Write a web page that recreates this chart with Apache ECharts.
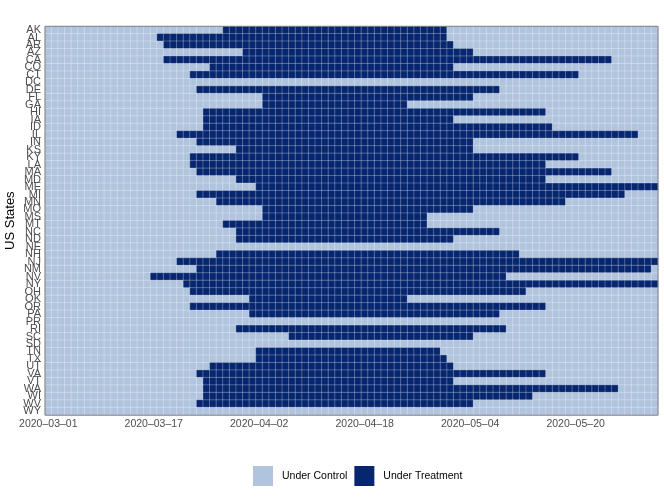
<!DOCTYPE html>
<html>
<head>
<meta charset="utf-8">
<script src="https://cdn.jsdelivr.net/npm/echarts@6/dist/echarts.min.js"></script>
<style>
  html, body { margin: 0; padding: 0; background: #fff; }
  #chart { width: 664px; height: 499px; }
</style>
</head>
<body>
<div id="chart"></div>
<script>
const states = ['AK','AL','AR','AZ','CA','CO','CT','DC','DE','FL','GA','HI','IA','ID','IL','IN','KS','KY','LA','MA',
  'MD','ME','MI','MN','MO','MS','MT','NC','ND','NE','NH','NJ','NM','NV','NY','OH','OK','OR','PA','PR',
  'RI','SC','SD','TN','TX','UT','VA','VT','WA','WI','WV','WY'];

// first and last day under treatment (null = never treated)
const treatStart = ['2020-03-28','2020-03-18','2020-03-19','2020-03-31','2020-03-19','2020-03-26','2020-03-23',null,'2020-03-24','2020-04-03',
  '2020-04-03','2020-03-25','2020-03-25','2020-03-25','2020-03-21','2020-03-24','2020-03-30','2020-03-23','2020-03-23','2020-03-24',
  '2020-03-30','2020-04-02','2020-03-24','2020-03-27','2020-04-03','2020-04-03','2020-03-28','2020-03-30','2020-03-30',null,
  '2020-03-27','2020-03-21','2020-03-24','2020-03-17','2020-03-22','2020-03-23','2020-04-01','2020-03-23','2020-04-01',null,
  '2020-03-30','2020-04-07',null,'2020-04-02','2020-04-02','2020-03-26','2020-03-24','2020-03-25','2020-03-25','2020-03-25',
  '2020-03-24',null];
const treatEnd = ['2020-04-30','2020-04-30','2020-05-01','2020-05-04','2020-05-25','2020-05-01','2020-05-20',null,'2020-05-08','2020-05-04',
  '2020-04-24','2020-05-15','2020-05-01','2020-05-16','2020-05-29','2020-05-04','2020-05-04','2020-05-20','2020-05-15','2020-05-25',
  '2020-05-15','2020-06-01','2020-05-27','2020-05-18','2020-05-04','2020-04-27','2020-04-27','2020-05-08','2020-05-01',null,
  '2020-05-11','2020-06-01','2020-05-31','2020-05-09','2020-06-01','2020-05-12','2020-04-24','2020-05-15','2020-05-08',null,
  '2020-05-09','2020-05-04',null,'2020-04-29','2020-04-30','2020-05-01','2020-05-15','2020-05-01','2020-05-26','2020-05-13',
  '2020-05-04',null];

const firstDay = '2020-03-01';
const lastDay = '2020-06-01';
const statusLabels = ['Under Control', 'Under Treatment'];

// daily categories
const dates = [];
for (let d = new Date(firstDay + 'T00:00:00Z'); d <= new Date(lastDay + 'T00:00:00Z'); d.setUTCDate(d.getUTCDate() + 1)) {
  dates.push(d.toISOString().slice(0, 10));
}

const cells = [];
states.forEach((s, i) => {
  dates.forEach((dt, j) => {
    const on = treatStart[i] && dt >= treatStart[i] && dt <= treatEnd[i] ? 1 : 0;
    cells.push([j, i, on]);
  });
});

const chart = echarts.init(document.getElementById('chart'));
const font = 'Liberation Sans, Arial, Helvetica, sans-serif';

chart.setOption({
  animation: false,
  backgroundColor: '#fff',
  textStyle: { fontFamily: font },
  grid: { left: 45, right: 6, top: 26.3, bottom: 84, outerBoundsMode: 'none', containLabel: false },
  xAxis: {
    type: 'category',
    data: dates,
    axisLine: { show: false },
    axisTick: { alignWithLabel: true, interval: 15, length: 3, lineStyle: { color: '#333' } },
    axisLabel: {
      interval: 15, color: '#4d4d4d', fontSize: 10.5, margin: 4,
      formatter: v => v.replace(/-/g, '\u2013')
    },
    splitLine: { show: false }
  },
  yAxis: {
    type: 'category',
    data: states,
    inverse: true,
    name: 'US States',
    nameLocation: 'middle',
    nameMoveOverlap: false,
    nameGap: 28,
    nameTextStyle: { color: '#000', fontSize: 13, fontFamily: font },
    axisLine: { show: false },
    axisTick: { alignWithLabel: true, length: 3, lineStyle: { color: '#333' } },
    axisLabel: { interval: 0, color: '#4d4d4d', fontSize: 11, margin: 4 },
    splitLine: { show: false }
  },
  visualMap: {
    type: 'piecewise',
    dimension: 2,
    orient: 'horizontal',
    left: 253,
    top: 466,
    padding: 0,
    itemWidth: 20,
    itemHeight: 20,
    itemGap: 7,
    textGap: 9,
    itemSymbol: 'rect',
    selectedMode: false,
    hoverLink: false,
    textStyle: { color: '#000', fontSize: 10.5, fontFamily: font },
    pieces: [
      { value: 0, label: statusLabels[0], color: '#B0C4DE' },
      { value: 1, label: statusLabels[1], color: '#06266F' }
    ]
  },
  series: [{
    type: 'heatmap',
    data: cells,
    progressive: 0,
    itemStyle: { borderColor: 'rgba(255,255,255,0.45)', borderWidth: 0.6 },
    emphasis: { disabled: true }
  }],
  graphic: [{
    type: 'rect',
    z: 100,
    shape: { x: 45, y: 26.3, width: 613, height: 388.9 },
    style: { fill: 'none', stroke: '#7f7f7f', lineWidth: 1 }
  }]
});
</script>
</body>
</html>
